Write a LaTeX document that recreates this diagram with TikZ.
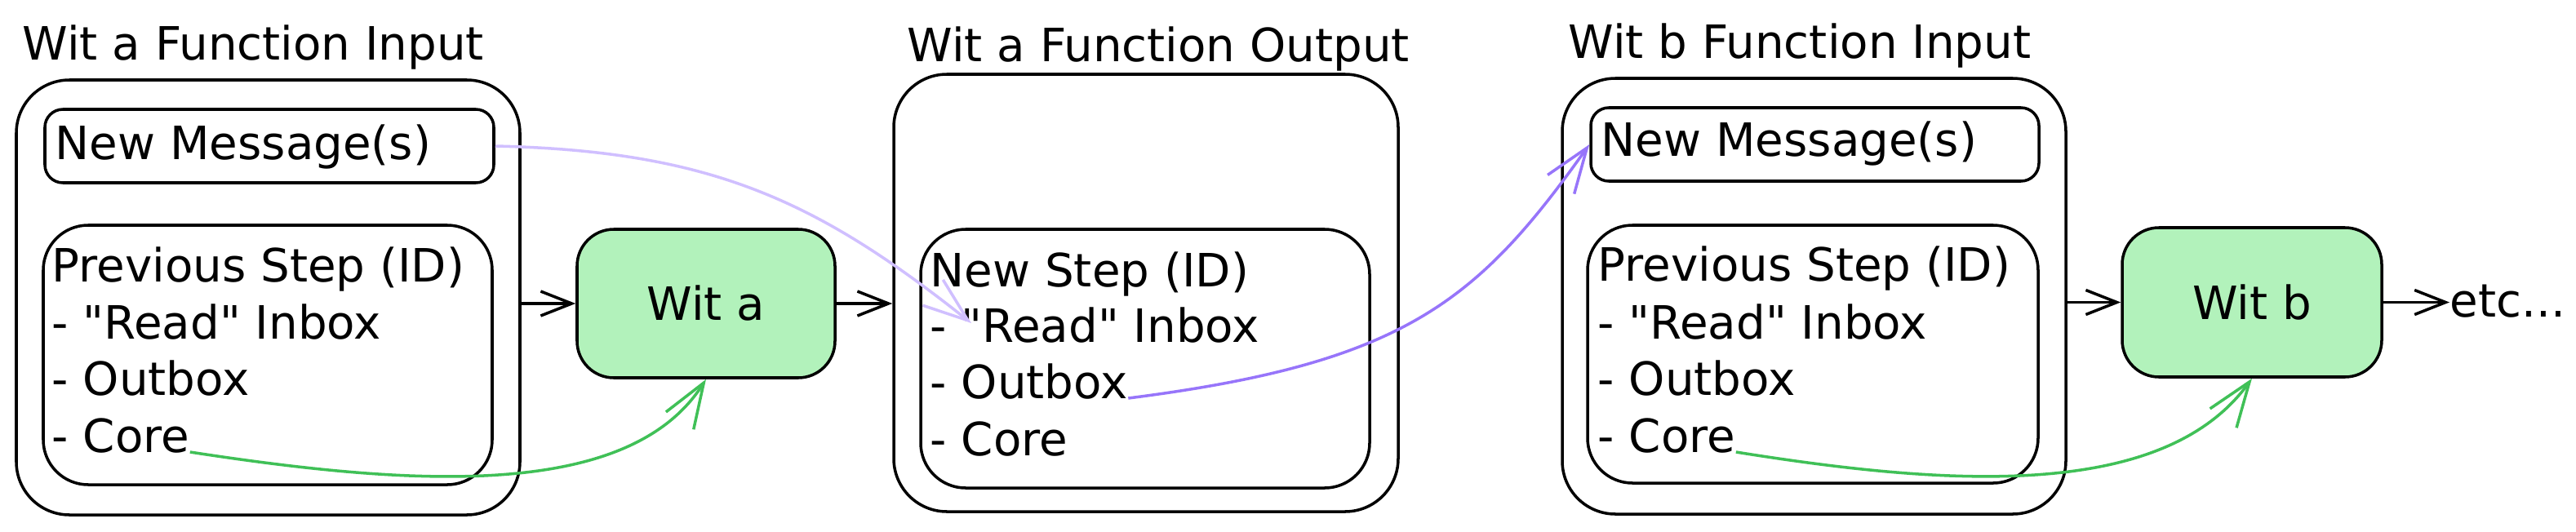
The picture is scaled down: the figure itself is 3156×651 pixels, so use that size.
\documentclass[tikz,border=0pt]{standalone}
\usepackage{fontspec}
\setmainfont{DejaVu Sans}[Ligatures=TeXOff]
\usetikzlibrary{arrows.meta,fit}
\definecolor{wgreen}{HTML}{B2F2BB}
\definecolor{lgreen}{HTML}{40C057}
\definecolor{lpurple}{HTML}{D0BFFF}
\definecolor{dpurple}{HTML}{9775FA}
\begin{document}
\begin{tikzpicture}[x=0.01cm,y=-0.01cm,
  every node/.style={font=\fontsize{16pt}{19pt}\selectfont},
  box/.style={draw=black, line width=1pt, inner sep=0pt},
  outerbox/.style={box, rounded corners=6.5mm},
  msgbox/.style={box, rounded corners=2.2mm},
  stepbox/.style={box, rounded corners=5.5mm},
  witbox/.style={box, rounded corners=4.5mm, fill=wgreen},
  txt/.style={anchor=base west, inner sep=0pt},
  flow/.style={line width=1pt, -{Straight Barb[length=3.8mm,width=3mm]}},
  link/.style={line width=1pt, -{Straight Barb[length=5.5mm,width=4mm]}},
]
\useasboundingbox (0,0) rectangle (3156,651);

% titles
\node[txt] (t1) at (27,73) {Wit a Function Input};
\node[txt] (t2) at (1111,75) {Wit a Function Output};
\node[txt] (t3) at (1921,71) {Wit b Function Input};

% boxes
\node[outerbox, fit={(20,98) (637,631)}] (box1) {};
\node[msgbox, fit={(55,134) (605,224)}] (nm1) {};
\node[stepbox, fit={(53,276) (603,594)}] (ps1) {};
\node[witbox, fit={(707,281) (1023,463)}, label=center:Wit a] (wita) {};

\node[outerbox, fit={(1095,91) (1713,627)}] (box2) {};
\node[stepbox, fit={(1128,281) (1678,598)}] (ns2) {};

\node[outerbox, fit={(1914,96) (2531,630)}] (box3) {};
\node[msgbox, fit={(1949,132) (2498,222)}] (nm3) {};
\node[stepbox, fit={(1945,276) (2497,592)}] (ps3) {};
\node[witbox, fit={(2600,279) (2918,462)}, label=center:Wit b] (witb) {};

% texts box 1
\node[txt] (m1) at (67,195) {New Message(s)};
\node[txt] (p1) at (63,345) {Previous Step (ID)};
\node[txt] (r1) at (63,415) {- "Read" Inbox};
\node[txt] (o1) at (63,484) {- Outbox};
\node[txt] (c1) at (63,554) {- Core};

% texts box 2
\node[txt] (p2) at (1139,351) {New Step (ID)};
\node[txt] (r2) at (1139,419) {- "Read" Inbox};
\node[txt] (o2) at (1139,488) {- Outbox};
\node[txt] (c2) at (1139,558) {- Core};
\coordinate (readin) at (1190,396);

% texts box 3
\node[txt] (m3) at (1961,191) {New Message(s)};
\node[txt] (p3) at (1957,344) {Previous Step (ID)};
\node[txt] (r3) at (1957,415) {- "Read" Inbox};
\node[txt] (o3) at (1957,484) {- Outbox};
\node[txt] (c3) at (1957,554) {- Core};

\node[txt] (etc) at (3001,388) {etc...};

% flow arrows
\draw[flow] (box1.east |- wita.west) -- (wita.west);
\draw[flow] (wita.east) -- (wita.east -| box2.west);
\draw[flow] (box3.east |- witb.west) -- (witb.west);
\draw[flow] (witb.east) -- (witb.east -| etc.west);

% links
\draw[link, lpurple] (nm1.east) .. controls (870,185) and (1000,245) .. (readin);
\draw[link, dpurple] (o2.base east) .. controls (1720,445) and (1810,370) .. (nm3.west);
\draw[link, lgreen] (c1.base east) .. controls (500,595) and (770,615) .. (wita.south);
\draw[link, lgreen] (c3.base east) .. controls (2383,595) and (2650,615) .. (witb.south);
\end{tikzpicture}
\end{document}
